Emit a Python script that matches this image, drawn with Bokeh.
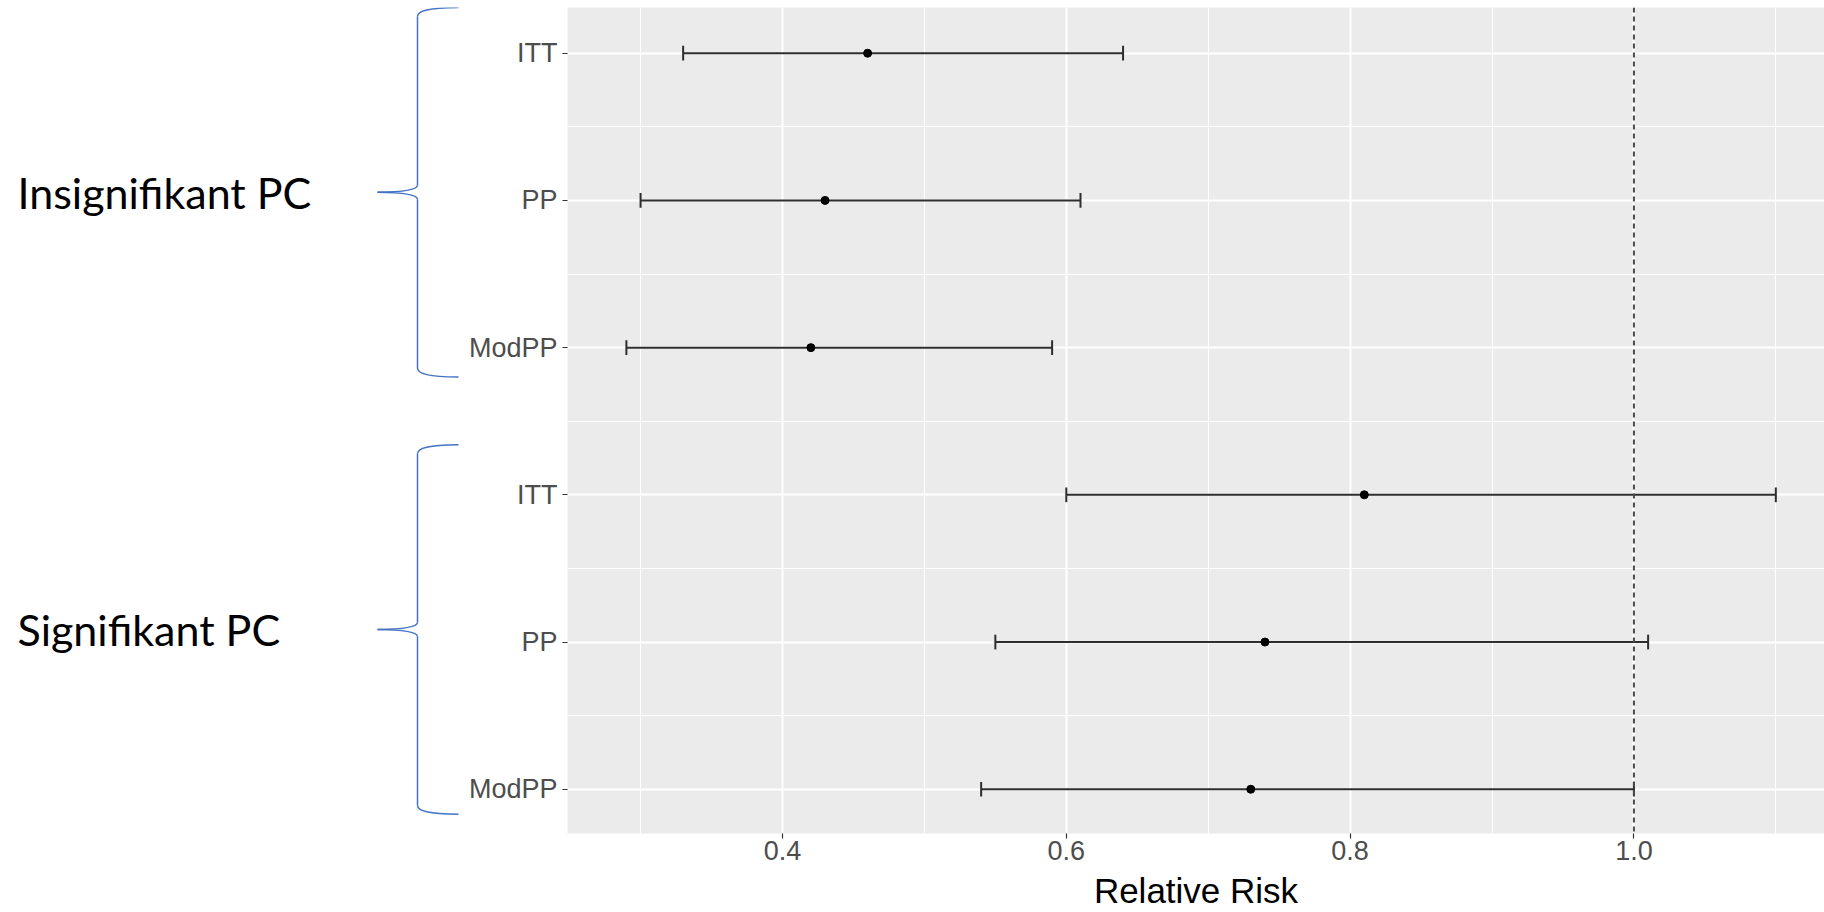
from bokeh.plotting import figure
from bokeh.models import Range1d, FixedTicker, PrintfTickFormatter, Span
from bokeh.layouts import row
from bokeh.embed import file_html
from bokeh.resources import INLINE
from bokeh.core.properties import value

# ---------------- data ----------------
groups = ["Insignifikant PC", "Signifikant PC"]
row_labels = ["ITT", "PP", "ModPP", "ITT", "PP", "ModPP"]   # top to bottom
y_pos = [6, 5, 4, 3, 2, 1]
rr = [0.46, 0.43, 0.42, 0.81, 0.74, 0.73]
lower = [0.33, 0.30, 0.29, 0.60, 0.55, 0.54]
upper = [0.64, 0.61, 0.59, 1.10, 1.01, 1.00]
x_ticks = [0.4, 0.6, 0.8, 1.0]
x_minor = [0.3, 0.5, 0.7, 0.9, 1.1]
y_minor = [1.5, 2.5, 3.5, 4.5, 5.5]
reference_line = 1.0
brace_top = [6.31, 3.34]
brace_bottom = [3.80, 0.83]

# ---------------- layout constants ----------------
H = 912
TOP, BOTTOM = 7, 79
LEFT_W = 460
MAIN_W = 1824 - LEFT_W
FONT = "Liberation Sans"
y_range = Range1d(0.6995, 6.3105)
x_range = Range1d(0.2485, 1.1343)
px = (y_range.end - y_range.start) / (H - TOP - BOTTOM)

# ---------------- main panel ----------------
p = figure(width=MAIN_W, height=H, x_range=x_range, y_range=y_range,
           toolbar_location=None, output_backend="svg",
           min_border_left=107, min_border_right=0,
           min_border_top=TOP, min_border_bottom=BOTTOM,
           background_fill_color="#EBEBEB", border_fill_color="white")
p.outline_line_color = None

p.xaxis.ticker = FixedTicker(ticks=x_ticks, minor_ticks=x_minor)
p.xaxis.formatter = PrintfTickFormatter(format="%.1f")
p.yaxis.ticker = FixedTicker(ticks=y_pos, minor_ticks=y_minor)
p.yaxis.major_label_overrides = {float(y): lab for y, lab in zip(y_pos, row_labels)}

for ax in (p.xaxis[0], p.yaxis[0]):
    ax.axis_line_color = None
    ax.major_tick_line_color = "#333333"
    ax.major_tick_line_width = 1.2
    ax.major_tick_out = 5
    ax.major_tick_in = 0
    ax.minor_tick_line_color = None
    ax.major_label_text_font = FONT
    ax.major_label_text_font_size = "27px"
    ax.major_label_text_color = "#4D4D4D"

p.yaxis.major_label_standoff = 5
p.xaxis.major_label_standoff = 2
p.xaxis.axis_label = "Relative Risk"
p.xaxis.axis_label_text_font = FONT
p.xaxis.axis_label_text_font_size = "35px"
p.xaxis.axis_label_text_font_style = "normal"
p.xaxis.axis_label_text_color = "black"
p.xaxis.axis_label_standoff = 8

p.grid.grid_line_color = "white"
p.grid.grid_line_width = 2
p.grid.minor_grid_line_color = "white"
p.grid.minor_grid_line_width = 1.1

cap = 0.05
ebar = dict(line_color="#2E2E2E", line_width=2)
p.segment(x0=lower, y0=y_pos, x1=upper, y1=y_pos, **ebar)
p.segment(x0=lower, y0=[y - cap for y in y_pos], x1=lower, y1=[y + cap for y in y_pos], **ebar)
p.segment(x0=upper, y0=[y - cap for y in y_pos], x1=upper, y1=[y + cap for y in y_pos], **ebar)
p.scatter(x=rr, y=y_pos, size=8, color="black")

p.add_layout(Span(location=reference_line, dimension="height", line_color="#4A4A4A",
                  line_width=2, line_dash="5 4"))

# ---------------- left annotation panel (braces + group names) ----------------
left = figure(width=LEFT_W, height=H, x_range=Range1d(0, LEFT_W), y_range=y_range,
              toolbar_location=None, output_backend="svg",
              x_axis_location=None, y_axis_location=None,
              min_border_left=0, min_border_right=0,
              min_border_top=TOP, min_border_bottom=BOTTOM,
              background_fill_color="white", border_fill_color="white")
left.outline_line_color = None
left.grid.visible = False

X_END, X_SPINE, X_TIP = 458, 417, 377
BLUE = "#4472C4"
mids = [(t + b) / 2 for t, b in zip(brace_top, brace_bottom)]
for t, b, m in zip(brace_top, brace_bottom, mids):
    # top end curve
    left.bezier(x0=[X_SPINE], y0=[t - 9 * px], x1=[X_END], y1=[t],
                cx0=[X_SPINE], cy0=[t - 3 * px], cx1=[X_SPINE + 11], cy1=[t - 0.5 * px],
                line_color=BLUE, line_width=1.5)
    left.segment(x0=[X_SPINE], y0=[t - 9 * px], x1=[X_SPINE], y1=[m + 7 * px],
                 line_color=BLUE, line_width=1.5)
    # tip curves
    left.bezier(x0=[X_SPINE], y0=[m + 7 * px], x1=[X_TIP], y1=[m],
                cx0=[X_SPINE], cy0=[m + 2.5 * px], cx1=[X_SPINE - 12], cy1=[m + 0.3 * px],
                line_color=BLUE, line_width=1.5)
    left.bezier(x0=[X_SPINE], y0=[m - 7 * px], x1=[X_TIP], y1=[m],
                cx0=[X_SPINE], cy0=[m - 2.5 * px], cx1=[X_SPINE - 12], cy1=[m - 0.3 * px],
                line_color=BLUE, line_width=1.5)
    left.segment(x0=[X_SPINE], y0=[m - 7 * px], x1=[X_SPINE], y1=[b + 9 * px],
                 line_color=BLUE, line_width=1.5)
    # bottom end curve
    left.bezier(x0=[X_SPINE], y0=[b + 9 * px], x1=[X_END], y1=[b],
                cx0=[X_SPINE], cy0=[b + 3 * px], cx1=[X_SPINE + 11], cy1=[b + 0.5 * px],
                line_color=BLUE, line_width=1.5)

left.text(x=[17, 17], y=mids, text=groups, text_font=value("Lato"),
          text_font_size="43px", text_baseline="middle", text_align="left",
          text_color="black")

layout = row(left, p)
open("out.html", "w").write(file_html(layout, INLINE))
